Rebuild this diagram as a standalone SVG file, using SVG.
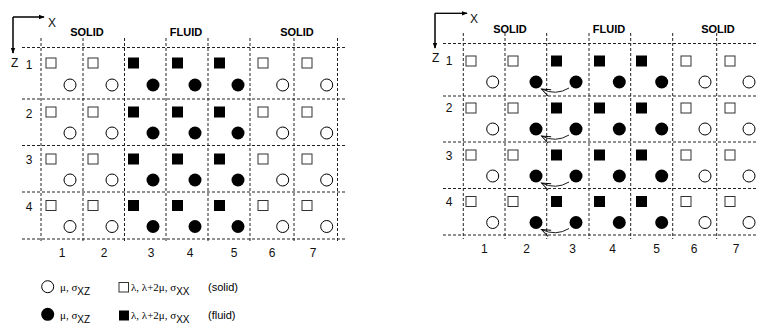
<svg xmlns="http://www.w3.org/2000/svg" width="759" height="327" viewBox="0 0 759 327">
<style>
.bg{fill:#fff}
.grid line{stroke:#222;stroke-width:1;stroke-dasharray:3,2}
.ax{stroke:#000;stroke-width:1;fill:none}
.os{fill:#fff;stroke:#333;stroke-width:1}
.fs{fill:#000}
.oc{fill:#fff;stroke:#000;stroke-width:1}
.fc{fill:#000}
.lab{font-family:"Liberation Sans",Arial,sans-serif;font-size:12px;fill:#111}
.hd{font-family:"Liberation Sans",Arial,sans-serif;font-size:11px;font-weight:bold;fill:#000;text-anchor:middle}
.num{font-family:"Liberation Sans",Arial,sans-serif;font-size:12px;fill:#111;text-anchor:middle}
.sym{font-family:"Liberation Serif","Times New Roman",serif;font-size:11px;fill:#000}
.sub{font-family:"Liberation Sans",Arial,sans-serif;font-size:10px}
.tag{font-family:"Liberation Sans",Arial,sans-serif;font-size:11px;fill:#000}
.cv{stroke:#000;stroke-width:0.9;fill:none}
</style>
<defs>
<marker id="ah" viewBox="0 0 8 8" refX="7" refY="4" markerWidth="6" markerHeight="6" orient="auto" markerUnits="userSpaceOnUse"><path d="M0,1 L8,4 L0,7 Z" fill="#000"/></marker>
<marker id="oh" viewBox="-10 -5 12 10" refX="0" refY="0" markerWidth="12" markerHeight="10" orient="auto" markerUnits="userSpaceOnUse"><path d="M-9,-3.5 L0,0 L-9,3.5" fill="none" stroke="#000" stroke-width="0.9"/></marker>
</defs>
<rect class="bg" width="759" height="327"/>

<!-- LEFT DIAGRAM -->
<g id="left-axes">
<path class="ax" d="M13,53 L13,17 L44,17" marker-end="url(#ah)"/>
<path class="ax" d="M44,17 L13,17 L13,53" marker-end="url(#ah)"/>
<text class="lab" x="48" y="26.5">X</text>
<text class="lab" x="11" y="67">Z</text>
</g>
<g id="left-grid" class="grid">
<line x1="22" y1="47.5" x2="347" y2="47.5"/>
<line x1="22" y1="99" x2="347" y2="99"/>
<line x1="22" y1="145.5" x2="347" y2="145.5"/>
<line x1="22" y1="192" x2="347" y2="192"/>
<line x1="22" y1="239" x2="347" y2="239"/>
<line x1="41" y1="38" x2="41" y2="243"/>
<line x1="83" y1="38" x2="83" y2="243"/>
<line x1="124.5" y1="38" x2="124.5" y2="243"/>
<line x1="166" y1="38" x2="166" y2="243"/>
<line x1="208" y1="38" x2="208" y2="243"/>
<line x1="250" y1="38" x2="250" y2="243"/>
<line x1="294" y1="38" x2="294" y2="243"/>
<line x1="337.5" y1="38" x2="337.5" y2="243"/>
</g>
<g id="left-labels">
<text class="hd" x="87" y="36">SOLID</text>
<text class="hd" x="186" y="36">FLUID</text>
<text class="hd" x="297" y="36">SOLID</text>
<text class="num" x="29" y="68.5">1</text>
<text class="num" x="29" y="117.5">2</text>
<text class="num" x="29" y="164">3</text>
<text class="num" x="29" y="210.5">4</text>
<text class="num" x="62" y="256.5">1</text>
<text class="num" x="104" y="256.5">2</text>
<text class="num" x="151" y="256.5">3</text>
<text class="num" x="190" y="256.5">4</text>
<text class="num" x="234" y="256.5">5</text>
<text class="num" x="272" y="256.5">6</text>
<text class="num" x="313" y="256.5">7</text>
</g>
<g id="left-squares">
<rect class="os" x="46" y="58" width="10" height="10"/><rect class="os" x="88" y="58" width="10" height="10"/>
<rect class="fs" x="128" y="57.5" width="11" height="11"/><rect class="fs" x="172" y="57.5" width="11" height="11"/><rect class="fs" x="214" y="57.5" width="11" height="11"/>
<rect class="os" x="258" y="58" width="10" height="10"/><rect class="os" x="302" y="58" width="10" height="10"/>

<rect class="os" x="46" y="107" width="10" height="10"/><rect class="os" x="88" y="107" width="10" height="10"/>
<rect class="fs" x="128" y="106.5" width="11" height="11"/><rect class="fs" x="172" y="106.5" width="11" height="11"/><rect class="fs" x="214" y="106.5" width="11" height="11"/>
<rect class="os" x="258" y="107" width="10" height="10"/><rect class="os" x="302" y="107" width="10" height="10"/>

<rect class="os" x="46" y="154" width="10" height="10"/><rect class="os" x="88" y="154" width="10" height="10"/>
<rect class="fs" x="128" y="153.5" width="11" height="11"/><rect class="fs" x="172" y="153.5" width="11" height="11"/><rect class="fs" x="214" y="153.5" width="11" height="11"/>
<rect class="os" x="258" y="154" width="10" height="10"/><rect class="os" x="302" y="154" width="10" height="10"/>

<rect class="os" x="46" y="200.5" width="10" height="10"/><rect class="os" x="88" y="200.5" width="10" height="10"/>
<rect class="fs" x="128" y="200" width="11" height="11"/><rect class="fs" x="172" y="200" width="11" height="11"/><rect class="fs" x="214" y="200" width="11" height="11"/>
<rect class="os" x="258" y="200.5" width="10" height="10"/><rect class="os" x="302" y="200.5" width="10" height="10"/>
</g>
<g id="left-circles">
<circle class="oc" cx="70" cy="85" r="6"/><circle class="oc" cx="112" cy="85" r="6"/>
<circle class="fc" cx="153" cy="85" r="6.5"/><circle class="fc" cx="195" cy="85" r="6.5"/><circle class="fc" cx="238" cy="85" r="6.5"/>
<circle class="oc" cx="282.7" cy="85" r="6"/><circle class="oc" cx="326.7" cy="85" r="6"/>

<circle class="oc" cx="70" cy="133" r="6"/><circle class="oc" cx="112" cy="133" r="6"/>
<circle class="fc" cx="153" cy="133" r="6.5"/><circle class="fc" cx="195" cy="133" r="6.5"/><circle class="fc" cx="238" cy="133" r="6.5"/>
<circle class="oc" cx="282.7" cy="133" r="6"/><circle class="oc" cx="326.7" cy="133" r="6"/>

<circle class="oc" cx="70" cy="180" r="6"/><circle class="oc" cx="112" cy="180" r="6"/>
<circle class="fc" cx="153" cy="180" r="6.5"/><circle class="fc" cx="195" cy="180" r="6.5"/><circle class="fc" cx="238" cy="180" r="6.5"/>
<circle class="oc" cx="282.7" cy="180" r="6"/><circle class="oc" cx="326.7" cy="180" r="6"/>

<circle class="oc" cx="70" cy="226.5" r="6"/><circle class="oc" cx="112" cy="226.5" r="6"/>
<circle class="fc" cx="153" cy="226.5" r="6.5"/><circle class="fc" cx="195" cy="226.5" r="6.5"/><circle class="fc" cx="238" cy="226.5" r="6.5"/>
<circle class="oc" cx="282.7" cy="226.5" r="6"/><circle class="oc" cx="326.7" cy="226.5" r="6"/>
</g>

<!-- LEGEND -->
<g id="legend">
<circle class="oc" cx="47.7" cy="286.7" r="6"/>
<text class="sym" x="60" y="291">μ, σ<tspan class="sub" dy="4">XZ</tspan></text>
<rect class="os" x="119" y="282.5" width="9.5" height="9.5"/>
<text class="sym" x="131" y="291">λ, λ+2μ, σ<tspan class="sub" dy="4">XX</tspan></text>
<text class="tag" x="208" y="291">(solid)</text>

<circle class="fc" cx="47.7" cy="314.3" r="6.5"/>
<text class="sym" x="60" y="319">μ, σ<tspan class="sub" dy="4">XZ</tspan></text>
<rect class="fs" x="119" y="310.5" width="10" height="10"/>
<text class="sym" x="131" y="319">λ, λ+2μ, σ<tspan class="sub" dy="4">XX</tspan></text>
<text class="tag" x="208" y="319">(fluid)</text>
</g>

<!-- RIGHT DIAGRAM -->
<g id="right-axes">
<path class="ax" d="M435,48 L435,13.3 L467,13.3" marker-end="url(#ah)"/>
<path class="ax" d="M467,13.3 L435,13.3 L435,48" marker-end="url(#ah)"/>
<text class="lab" x="470" y="23">X</text>
<text class="lab" x="432" y="62">Z</text>
</g>
<g id="right-grid" class="grid">
<line x1="443" y1="43.5" x2="758" y2="43.5"/>
<line x1="443" y1="96" x2="758" y2="96"/>
<line x1="443" y1="142" x2="758" y2="142"/>
<line x1="443" y1="188.5" x2="758" y2="188.5"/>
<line x1="443" y1="235" x2="758" y2="235"/>
<line x1="463.3" y1="33" x2="463.3" y2="239"/>
<line x1="505" y1="33" x2="505" y2="239"/>
<line x1="546.7" y1="33" x2="546.7" y2="239"/>
<line x1="589" y1="33" x2="589" y2="239"/>
<line x1="630.7" y1="33" x2="630.7" y2="239"/>
<line x1="672.7" y1="33" x2="672.7" y2="239"/>
<line x1="716.7" y1="33" x2="716.7" y2="239"/>
</g>
<g id="right-labels">
<text class="hd" x="510" y="32.5">SOLID</text>
<text class="hd" x="609" y="32.5">FLUID</text>
<text class="hd" x="718" y="32.5">SOLID</text>
<text class="num" x="449" y="65">1</text>
<text class="num" x="449" y="112">2</text>
<text class="num" x="449" y="159.5">3</text>
<text class="num" x="449" y="206">4</text>
<text class="num" x="484.3" y="252.7">1</text>
<text class="num" x="526.7" y="252.7">2</text>
<text class="num" x="572.7" y="252.7">3</text>
<text class="num" x="612.7" y="252.7">4</text>
<text class="num" x="656.7" y="252.7">5</text>
<text class="num" x="694" y="252.7">6</text>
<text class="num" x="736" y="252.7">7</text>
</g>
<g id="right-squares">
<rect class="os" x="466" y="56" width="10" height="10"/><rect class="os" x="508" y="56" width="10" height="10"/>
<rect class="fs" x="551" y="55.5" width="11" height="11"/><rect class="fs" x="594" y="55.5" width="11" height="11"/><rect class="fs" x="636" y="55.5" width="11" height="11"/>
<rect class="os" x="681" y="56" width="10" height="10"/><rect class="os" x="725" y="56" width="10" height="10"/>

<rect class="os" x="466" y="103" width="10" height="10"/><rect class="os" x="508" y="103" width="10" height="10"/>
<rect class="fs" x="551" y="102.5" width="11" height="11"/><rect class="fs" x="594" y="102.5" width="11" height="11"/><rect class="fs" x="636" y="102.5" width="11" height="11"/>
<rect class="os" x="681" y="103" width="10" height="10"/><rect class="os" x="725" y="103" width="10" height="10"/>

<rect class="os" x="466" y="150" width="10" height="10"/><rect class="os" x="508" y="150" width="10" height="10"/>
<rect class="fs" x="551" y="149.5" width="11" height="11"/><rect class="fs" x="594" y="149.5" width="11" height="11"/><rect class="fs" x="636" y="149.5" width="11" height="11"/>
<rect class="os" x="681" y="150" width="10" height="10"/><rect class="os" x="725" y="150" width="10" height="10"/>

<rect class="os" x="466" y="196.5" width="10" height="10"/><rect class="os" x="508" y="196.5" width="10" height="10"/>
<rect class="fs" x="551" y="196" width="11" height="11"/><rect class="fs" x="594" y="196" width="11" height="11"/><rect class="fs" x="636" y="196" width="11" height="11"/>
<rect class="os" x="681" y="196.5" width="10" height="10"/><rect class="os" x="725" y="196.5" width="10" height="10"/>
</g>
<g id="right-circles">
<circle class="oc" cx="492.7" cy="82" r="6"/><circle class="fc" cx="536" cy="82" r="6.5"/>
<circle class="fc" cx="576" cy="82" r="6.5"/><circle class="fc" cx="619.3" cy="82" r="6.5"/><circle class="fc" cx="661.7" cy="82" r="6.5"/>
<circle class="oc" cx="705" cy="82" r="6"/><circle class="oc" cx="749" cy="82" r="6"/>

<circle class="oc" cx="492.7" cy="129" r="6"/><circle class="fc" cx="536" cy="129" r="6.5"/>
<circle class="fc" cx="576" cy="129" r="6.5"/><circle class="fc" cx="619.3" cy="129" r="6.5"/><circle class="fc" cx="661.7" cy="129" r="6.5"/>
<circle class="oc" cx="705" cy="129" r="6"/><circle class="oc" cx="749" cy="129" r="6"/>

<circle class="oc" cx="492.7" cy="176" r="6"/><circle class="fc" cx="536" cy="176" r="6.5"/>
<circle class="fc" cx="576" cy="176" r="6.5"/><circle class="fc" cx="619.3" cy="176" r="6.5"/><circle class="fc" cx="661.7" cy="176" r="6.5"/>
<circle class="oc" cx="705" cy="176" r="6"/><circle class="oc" cx="749" cy="176" r="6"/>

<circle class="oc" cx="492.7" cy="222.5" r="6"/><circle class="fc" cx="536" cy="222.5" r="6.5"/>
<circle class="fc" cx="576" cy="222.5" r="6.5"/><circle class="fc" cx="619.3" cy="222.5" r="6.5"/><circle class="fc" cx="661.7" cy="222.5" r="6.5"/>
<circle class="oc" cx="705" cy="222.5" r="6"/><circle class="oc" cx="749" cy="222.5" r="6"/>
</g>
<g id="connectors">
<path class="cv" d="M569,88 Q556,96 541.5,89" marker-end="url(#oh)"/>
<path class="cv" d="M569,135 Q556,143 541.5,136" marker-end="url(#oh)"/>
<path class="cv" d="M569,182 Q556,190 541.5,183" marker-end="url(#oh)"/>
<path class="cv" d="M569,228.5 Q556,236.5 541.5,229.5" marker-end="url(#oh)"/>
</g>
</svg>
